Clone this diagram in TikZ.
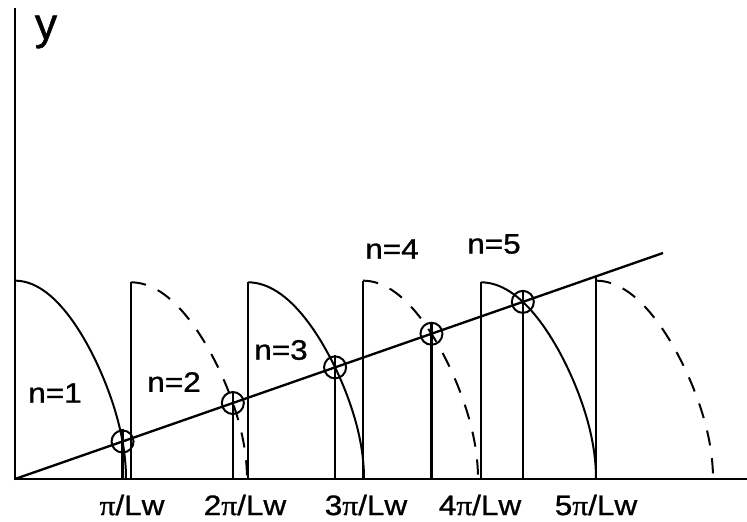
\documentclass[tikz,border=0pt]{standalone}
\usepackage{fontspec}
\setmainfont[FakeBold=1]{Liberation Sans}
\newfontfamily\labelfont[FakeStretch=1.12,FakeBold=1]{Liberation Sans}
\newfontfamily\pifont[FakeStretch=1.12,FakeBold=1]{Liberation Serif}
\usetikzlibrary{intersections}

\begin{document}
\begin{tikzpicture}[
  every node/.style={font=\labelfont\fontsize{24}{28}\selectfont},
  axis/.style={line width=2pt},
  solidarc/.style={line width=1.7pt},
  dashedarc/.style={line width=1.7pt,dash pattern=on 13pt off 11pt},
  ring/.style={circle,draw,line width=1.7pt,minimum size=6.6mm,inner sep=0pt},
  stemthick/.style={line width=2pt},
  stemthin/.style={line width=1.3pt}
]
\useasboundingbox (-0.45,-1.29) rectangle (21.96,14.37);

% AXES
\coordinate (O) at (0,0);
\coordinate (Ytop) at (0,14.13);
\coordinate (Xend) at (21.96,0);
\draw[axis] (Ytop) -- (O) -- (Xend);
\node[font=\fontsize{38}{40}\selectfont] (ylab) at (0.93,13.41) {y};

% STRAIGHT LINE
\coordinate (Lend) at (19.44,6.78);
\draw[axis,name path=line] (O) -- (Lend);

% BRANCHES
\draw[solidarc,name path=b1] plot[domain=0:90,samples=50]
  ({0+3.33*sin(\x)},{5.95*cos(\x)*(1-0.25*sin(\x)^2)});
\draw[dashedarc,name path=b2] plot[domain=0:90,samples=50]
  ({3.48+3.48*sin(\x)},{5.9*cos(\x)*(1-0.25*sin(\x)^2)});
\draw[solidarc,name path=b3] plot[domain=0:90,samples=50]
  ({6.99+3.48*sin(\x)},{5.9*cos(\x)*(1-0.25*sin(\x)^2)});
\draw[dashedarc,name path=b4] plot[domain=0:90,samples=50]
  ({10.44+3.45*sin(\x)},{5.95*cos(\x)*(1-0.25*sin(\x)^2)});
\draw[solidarc,name path=b5] plot[domain=0:90,samples=50]
  ({13.98+3.45*sin(\x)},{5.9*cos(\x)*(1-0.25*sin(\x)^2)});
\draw[dashedarc] plot[domain=0:90,samples=50]
  ({17.43+3.51*sin(\x)},{5.95*cos(\x)*(1-0.25*sin(\x)^2)});

% WALLS
\draw[stemthin]  (3.48,0) -- (3.48,5.9);
\draw[stemthick] (6.99,0) -- (6.99,5.9);
\draw[stemthin]  (10.44,0) -- (10.44,5.95);
\draw[stemthick] (13.98,0) -- (13.98,5.9);
\draw[stemthin]  (17.43,0) -- (17.43,6.08);

% CROSSINGS
\path[name intersections={of=line and b1,by=x1}];
\path[name intersections={of=line and b2,by=x2}];
\path[name intersections={of=line and b3,by=x3}];
\path[name intersections={of=line and b4,by=x4}];
\path[name intersections={of=line and b5,by=x5}];

\node[ring] (c1) at (x1) {};
\node[ring] (c2) at (x2) {};
\node[ring] (c3) at (x3) {};
\node[ring] (c4) at (x4) {};
\node[ring] (c5) at (x5) {};

\draw[stemthick] (c1.north) -- (c1.north |- O);
\draw[stemthick] (c2.north) -- (c2.north |- O);
\draw[stemthin]  (c3.north) -- (c3.north |- O);
\draw[stemthick] (c4.north) -- (c4.north |- O);
\draw[stemthin]  (c5.north) -- (c5.north |- O);

% LEVEL LABELS
\node (n1) at (1.2,2.58) {n=1};
\node (n2) at (4.77,2.91) {n=2};
\node (n3) at (7.98,3.87) {n=3};
\node (n4) at (11.31,6.9) {n=4};
\node (n5) at (14.37,7.05) {n=5};

% TICK LABELS
\node (k1) at (3.51,-0.78) {{\pifont π}/Lw};
\node (k2) at (6.9,-0.78) {2{\pifont π}/Lw};
\node (k3) at (10.53,-0.78) {3{\pifont π}/Lw};
\node (k4) at (13.95,-0.78) {4{\pifont π}/Lw};
\node (k5) at (17.43,-0.78) {5{\pifont π}/Lw};

\end{tikzpicture}
\end{document}
